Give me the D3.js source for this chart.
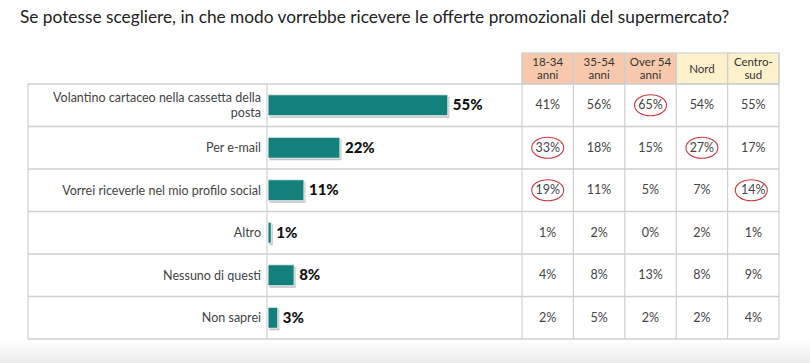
<!DOCTYPE html>
<html>
<head>
<meta charset="utf-8">
<script src="https://cdn.jsdelivr.net/npm/d3@7"></script>
<style>
  html, body { margin: 0; padding: 0; background: #fff; }
  svg { display: block; font-family: Lato, "Open Sans", sans-serif; }
</style>
</head>
<body>
<svg id="chart"></svg>
<script>
// dati
const categorie = [
  ["Volantino cartaceo nella cassetta della", "posta"],
  ["Per e-mail"],
  ["Vorrei riceverle nel mio profilo social"],
  ["Altro"],
  ["Nessuno di questi"],
  ["Non saprei"]
];
const totale = [55, 22, 11, 1, 8, 3];

const colonne = [["18-34", "anni"], ["35-54", "anni"], ["Over 54", "anni"], ["Nord"], ["Centro-", "sud"]];
const gruppoColonna = ["eta", "eta", "eta", "area", "area"];
const eta1834 = [41, 33, 19, 1, 4, 2];
const eta3554 = [56, 18, 11, 2, 8, 5];
const over54 = [65, 15, 5, 0, 13, 2];
const nord = [54, 27, 7, 2, 8, 2];
const centroSud = [55, 17, 14, 1, 9, 4];
// celle cerchiate in rosso [riga, colonna]
const evidenziati = [[0, 2], [1, 0], [1, 3], [2, 0], [2, 4]];

const width = 810, height = 363;
const valoriColonne = [eta1834, eta3554, over54, nord, centroSud];

const svg = d3.select("#chart").attr("width", width).attr("height", height);

// sfondo in basso sfumato
const defs = svg.append("defs");
const grad = defs.append("linearGradient").attr("id", "fondo").attr("x1", 0).attr("y1", 0).attr("x2", 0).attr("y2", 1);
grad.append("stop").attr("offset", "0%").attr("stop-color", "#ffffff");
grad.append("stop").attr("offset", "100%").attr("stop-color", "#ececec");
svg.append("rect").attr("x", 0).attr("y", 339).attr("width", width).attr("height", height - 339).attr("fill", "url(#fondo)");

svg.append("text")
  .attr("x", 20).attr("y", 23)
  .attr("font-size", 17.3).attr("fill", "#222")
  .text("Se potesse scegliere, in che modo vorrebbe ricevere le offerte promozionali del supermercato?");

const left = 28, divider = 267, tableX0 = 522, right = 779;
const y = d3.scaleBand().domain(d3.range(categorie.length)).range([84, 339]);
const x = d3.scaleLinear().domain([0, 100]).range([268, 268 + 327]);
const xc = d3.scaleBand().domain(d3.range(colonne.length)).range([tableX0, right]);

const lineColor = "#cfcfcf";

// intestazioni
const head = svg.append("g");
head.selectAll("rect").data(colonne).join("rect")
  .attr("x", (d, i) => xc(i)).attr("y", 53)
  .attr("width", xc.bandwidth()).attr("height", 84 - 53)
  .attr("fill", (d, i) => gruppoColonna[i] === "eta" ? "#f7c8ab" : "#fdf1cb")
  .attr("stroke", lineColor).attr("stroke-width", 1.2);
head.selectAll("text").data(colonne).join("text")
  .attr("text-anchor", "middle").attr("font-size", 11.5).attr("fill", "#333")
  .each(function (d, i) {
    const t = d3.select(this);
    const cx = xc(i) + xc.bandwidth() / 2;
    const y0 = d.length === 1 ? 72.5 : 66;
    d.forEach((riga, k) => t.append("tspan").attr("x", cx).attr("y", y0 + k * 13).text(riga));
  });

// righe
const rows = svg.append("g");
rows.selectAll("line.h").data(d3.range(categorie.length + 1)).join("line")
  .attr("class", "h")
  .attr("x1", left).attr("x2", right)
  .attr("y1", i => i < categorie.length ? y(i) : y.range()[1])
  .attr("y2", i => i < categorie.length ? y(i) : y.range()[1])
  .attr("stroke", lineColor).attr("stroke-width", 1.5);

const verticali = [left, divider].concat(d3.range(colonne.length).map(i => xc(i)), [right]);
rows.selectAll("line.v").data(verticali).join("line")
  .attr("class", "v")
  .attr("x1", d => d).attr("x2", d => d)
  .attr("y1", (d, i) => i < 2 ? 84 : 53).attr("y2", 339)
  .attr("stroke", lineColor).attr("stroke-width", 1.2);

// etichette categorie (una riga per tspan separato in testi distinti)
const etichette = [];
categorie.forEach((righe, i) => righe.forEach((testo, k) => etichette.push({ i, k, n: righe.length, testo })));
svg.append("g").selectAll("text").data(etichette).join("text")
  .attr("text-anchor", "end").attr("font-size", 12.5).attr("fill", "#444")
  .attr("x", 261)
  .attr("y", d => y(d.i) + y.bandwidth() / 2 + 4.5 - (d.n - 1) * 7.5 + d.k * 15)
  .text(d => d.testo);

// barre
const barH = 21;
const bars = svg.append("g");
bars.selectAll("rect.ombra").data(totale).join("rect")
  .attr("class", "ombra")
  .attr("x", x(0) + 1.5).attr("y", (d, i) => y(i) + (y.bandwidth() - barH) / 2 + 2)
  .attr("width", d => x(d) - x(0)).attr("height", barH)
  .attr("fill", "#c4c4c4");
bars.selectAll("rect.barra").data(totale).join("rect")
  .attr("class", "barra")
  .attr("x", x(0)).attr("y", (d, i) => y(i) + (y.bandwidth() - barH) / 2)
  .attr("width", d => x(d) - x(0)).attr("height", barH)
  .attr("fill", "#13807c").attr("stroke", "#e8f3f2").attr("stroke-width", 1);
bars.selectAll("text").data(totale).join("text")
  .attr("x", d => x(d) + 5).attr("y", (d, i) => y(i) + y.bandwidth() / 2 + 5)
  .attr("font-size", 15).attr("font-weight", 900).attr("fill", "#111")
  .text(d => d + "%");

// celle della tabella
const celle = [];
valoriColonne.forEach((col, c) => col.forEach((v, r) => celle.push({ r, c, v })));
svg.append("g").selectAll("text").data(celle).join("text")
  .attr("x", d => xc(d.c) + xc.bandwidth() / 2)
  .attr("y", d => y(d.r) + y.bandwidth() / 2 + 4)
  .attr("text-anchor", "middle").attr("font-size", 12.5).attr("fill", "#444")
  .text(d => d.v + "%");

svg.append("g").selectAll("ellipse").data(evidenziati).join("ellipse")
  .attr("cx", d => xc(d[1]) + xc.bandwidth() / 2 + (d[1] === 4 ? -2 : 0))
  .attr("cy", d => y(d[0]) + y.bandwidth() / 2)
  .attr("rx", 16).attr("ry", 10.5)
  .attr("fill", "none").attr("stroke", "#d0383c").attr("stroke-width", 1.1);
</script>
</body>
</html>
